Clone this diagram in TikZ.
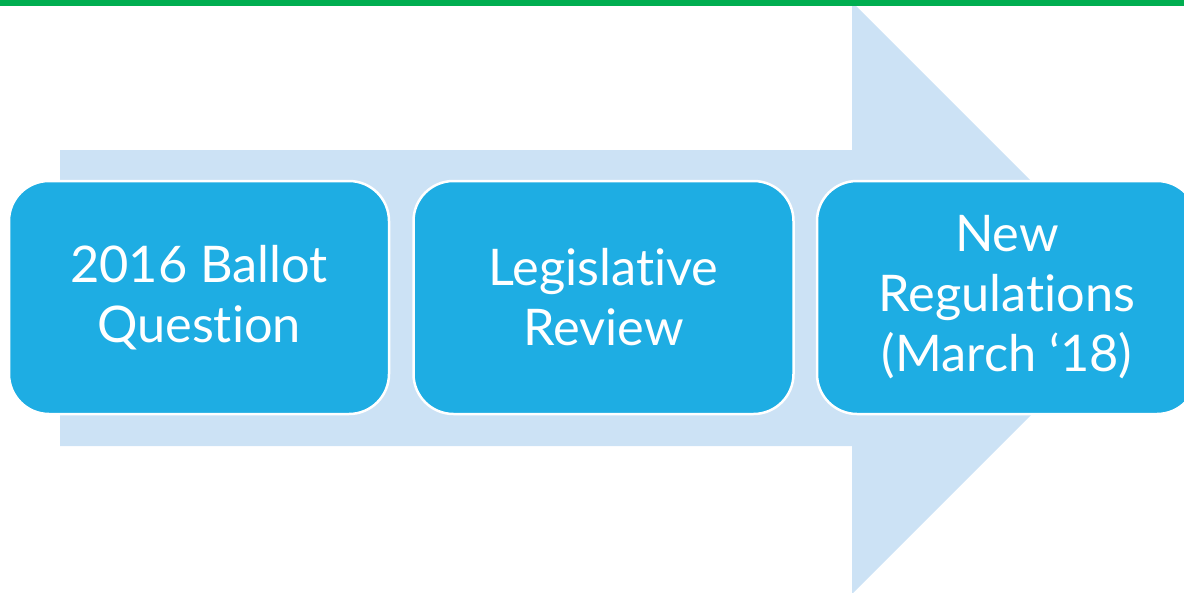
\documentclass[tikz,border=0pt]{standalone}
\usepackage{fontspec}
\setmainfont{Lato}[Ligatures={NoCommon,NoRequired}]
\definecolor{topgreen}{HTML}{00AE50}
\definecolor{arrowblue}{HTML}{CCE2F5}
\definecolor{boxblue}{HTML}{1EADE3}
\begin{document}
\begin{tikzpicture}[x=1pt,y=-1pt,
  stepbox/.style={draw=white, line width=2.5pt, fill=boxblue, rounded corners=40pt,
    minimum width=380pt, minimum height=233pt, text=white, align=center,
    font=\fontsize{50.5}{60}\selectfont, inner sep=0pt}]
\useasboundingbox (0,0) rectangle (1184,592);
\clip (0,0) rectangle (1184,592);
\fill[arrowblue] (60,150) -- (852,150) -- (852,2) -- (1148,298) -- (852,594) -- (852,446) -- (60,446) -- cycle;
\fill[topgreen] (0,0) rectangle (1184,5.7);
\node[stepbox] (b1) at (199,297.5) {2016 Ballot\\Question};
\node[stepbox] (b2) at (603.5,297.5) {Legislative\\Review};
\node[stepbox] (b3) at (1007,297.5) {New\\Regulations\\(March ‘18)};
\end{tikzpicture}
\end{document}
